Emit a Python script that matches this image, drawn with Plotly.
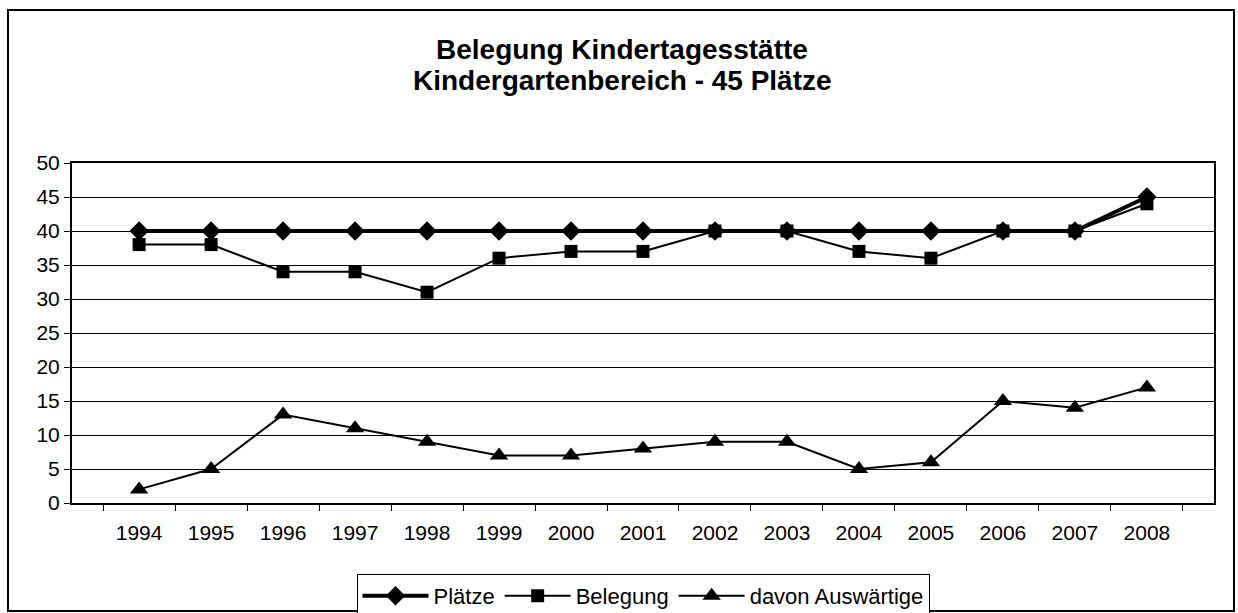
import plotly.graph_objects as go

years = [str(y) for y in range(1994, 2009)]
plaetze = [40, 40, 40, 40, 40, 40, 40, 40, 40, 40, 40, 40, 40, 40, 45]
belegung = [38, 38, 34, 34, 31, 36, 37, 37, 40, 40, 37, 36, 40, 40, 44]
auswaertige = [2, 5, 13, 11, 9, 7, 7, 8, 9, 9, 5, 6, 15, 14, 17]
title_lines = ["Belegung Kindertagesstätte", "Kindergartenbereich - 45 Plätze"]

FONT = "Liberation Sans, Arial, sans-serif"

fig = go.Figure()
fig.add_trace(go.Scatter(x=years, y=plaetze, name="Plätze", mode="lines+markers",
                         line=dict(color="black", width=4),
                         marker=dict(symbol="diamond", size=15, color="black")))
fig.add_trace(go.Scatter(x=years, y=belegung, name="Belegung", mode="lines+markers",
                         line=dict(color="black", width=2),
                         marker=dict(symbol="square", size=13, color="black")))
fig.add_trace(go.Scatter(x=years, y=auswaertige, name="davon Auswärtige", mode="lines+markers",
                         line=dict(color="black", width=2),
                         marker=dict(symbol="triangle-up", size=16, color="black")))

L, R, T, B = 72, 24, 163, 110
W, H = 1238, 613
pw, ph = W - L - R, H - T - B

def px_x(p):
    return (p - L) / pw

def px_y(p):
    return (H - B - p) / ph

annotations = [
    dict(text="<b>%s</b>" % t, xref="paper", yref="paper", x=px_x(622), y=px_y(yc),
         xanchor="center", yanchor="middle", showarrow=False,
         font=dict(family=FONT, size=28, color="black"))
    for t, yc in zip(title_lines, [49, 80])
]

fig.update_layout(
    width=W, height=H,
    margin=dict(l=L, r=R, t=T, b=B, autoexpand=False),
    paper_bgcolor="white", plot_bgcolor="white",
    font=dict(family=FONT, size=21, color="black"),
    annotations=annotations,
    showlegend=True,
    legend=dict(orientation="h", x=0.5, xanchor="center", y=px_y(574), yanchor="top",
                bordercolor="black", borderwidth=1, bgcolor="white",
                font=dict(family=FONT, size=22, color="black"),
                itemwidth=66, tracegroupgap=0),
    xaxis=dict(type="category", categoryorder="array", categoryarray=years,
               showgrid=False, ticks="outside", tickson="boundaries", ticklen=6,
               tickcolor="black", tickwidth=1,
               showline=True, linecolor="black", linewidth=2, mirror=True,
               ticklabelstandoff=10, tickfont=dict(size=21)),
    yaxis=dict(range=[0, 50], tickvals=list(range(0, 51, 5)), showgrid=True,
               gridcolor="black", gridwidth=1, zeroline=False,
               ticks="outside", ticklen=6, tickcolor="black", tickwidth=1,
               showline=True, linecolor="black", linewidth=2, mirror=True,
               tickfont=dict(size=21)),
    shapes=[dict(type="rect", xref="paper", yref="paper",
                 x0=px_x(8), x1=px_x(1234), y0=px_y(611), y1=px_y(10),
                 line=dict(color="black", width=2), fillcolor="rgba(0,0,0,0)",
                 layer="above")],
)

fig.write_html("out.html", config={"displayModeBar": False},
               post_script="document.body.style.margin='0';document.body.style.padding='0';")
